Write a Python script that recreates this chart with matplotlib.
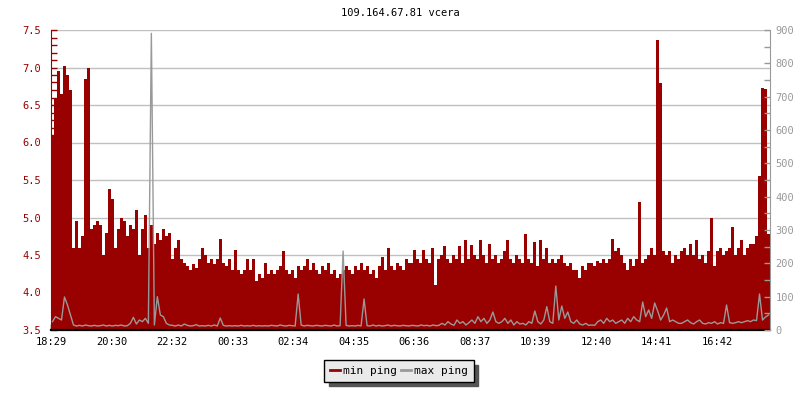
import numpy as np
import matplotlib
matplotlib.use('Agg')
from matplotlib import pyplot as plt
from matplotlib.ticker import MultipleLocator

# min ping (ms, left axis), one value per 6 minutes, from 18:29
min_ping = [
    6.1, 6.6, 6.95, 6.65, 7.02, 6.9, 6.7, 4.6, 4.95, 4.6,
    4.75, 6.85, 7.0, 4.85, 4.9, 4.95, 4.9, 4.5, 4.8, 5.38,
    5.25, 4.6, 4.85, 5.0, 4.95, 4.75, 4.9, 4.85, 5.1, 4.5,
    4.85, 5.03, 4.6, 4.9, 4.65, 4.8, 4.7, 4.85, 4.75, 4.8,
    4.45, 4.6, 4.7, 4.45, 4.4, 4.35, 4.3, 4.38, 4.33, 4.45,
    4.6, 4.5, 4.4, 4.45, 4.38, 4.45, 4.72, 4.4, 4.35, 4.45,
    4.3, 4.57, 4.3, 4.25, 4.3, 4.45, 4.3, 4.45, 4.15, 4.25,
    4.2, 4.4, 4.25, 4.3, 4.25, 4.3, 4.35, 4.55, 4.3, 4.25,
    4.3, 4.2, 4.35, 4.3, 4.35, 4.45, 4.3, 4.4, 4.3, 4.25,
    4.35, 4.3, 4.4, 4.25, 4.3, 4.2, 4.25, 4.3, 4.35, 4.3,
    4.25, 4.35, 4.3, 4.4, 4.3, 4.35, 4.25, 4.3, 4.2, 4.35,
    4.47, 4.3, 4.6, 4.35, 4.3, 4.4, 4.35, 4.3, 4.45, 4.4,
    4.4, 4.57, 4.45, 4.4, 4.57, 4.45, 4.4, 4.6, 4.1, 4.45,
    4.5, 4.62, 4.45, 4.4, 4.5, 4.45, 4.62, 4.4, 4.7, 4.45,
    4.63, 4.5, 4.45, 4.7, 4.5, 4.4, 4.65, 4.45, 4.5, 4.4,
    4.45, 4.55, 4.7, 4.45, 4.4, 4.5, 4.45, 4.4, 4.78, 4.45,
    4.4, 4.67, 4.35, 4.7, 4.45, 4.6, 4.4, 4.45, 4.4, 4.45,
    4.5, 4.4, 4.35, 4.4, 4.3, 4.3, 4.2, 4.35, 4.3, 4.4,
    4.4, 4.35, 4.42, 4.4, 4.45, 4.4, 4.45, 4.72, 4.55, 4.6,
    4.5, 4.4, 4.3, 4.45, 4.35, 4.45, 5.21, 4.4, 4.45, 4.5,
    4.6, 4.5, 7.37, 6.8, 4.55, 4.5, 4.55, 4.4, 4.5, 4.45,
    4.55, 4.6, 4.5, 4.65, 4.5, 4.7, 4.45, 4.5, 4.4, 4.55,
    5.0, 4.35, 4.55, 4.6, 4.5, 4.55, 4.6, 4.87, 4.5, 4.6,
    4.7, 4.5, 4.6, 4.65, 4.65, 4.75, 5.55, 6.73, 6.72, 4.78,
]

# max ping (ms, right axis)
max_ping = [
    25, 40, 35, 30, 99, 75, 45, 15, 12, 14,
    12, 15, 13, 12, 14, 12, 13, 15, 12, 14,
    12, 14, 13, 15, 12, 13, 20, 38, 18, 30,
    25, 35, 20, 890, 15, 100, 45, 40, 20, 15,
    14, 12, 15, 12, 18, 14, 12, 13, 16, 12,
    13, 12, 14, 12, 15, 12, 36, 14, 12, 13,
    12, 13, 12, 14, 12, 13, 12, 14, 12, 13,
    12, 13, 12, 14, 13, 12, 15, 13, 12, 14,
    13, 12, 108, 15, 12, 14, 13, 12, 14, 13,
    12, 14, 13, 12, 15, 12, 13, 237, 14, 12,
    13, 12, 14, 12, 93, 13, 12, 15, 12, 14,
    12, 13, 15, 12, 14, 13, 12, 14, 13, 12,
    14, 13, 12, 15, 13, 14, 12, 15, 13, 14,
    20, 15, 25, 18, 14, 30, 20, 25, 15, 22,
    30, 20, 40, 25, 35, 20, 30, 54, 25, 20,
    25, 35, 20, 30, 15, 25, 18, 20, 15, 25,
    20, 57, 25, 18, 30, 70, 25, 20, 132, 30,
    72, 35, 54, 25, 20, 30, 18, 15, 20, 14,
    15, 14, 25, 30, 20, 35, 25, 30, 20, 25,
    30, 20, 35, 25, 40, 30, 25, 84, 40, 60,
    35, 81, 57, 30, 45, 66, 25, 30, 25, 20,
    20, 25, 30, 22, 18, 25, 30, 20, 18, 22,
    20, 25, 18, 22, 20, 75, 22, 20, 22, 25,
    22, 25, 28, 25, 30, 28, 108, 30, 39, 45,
]

tick_minutes = [0, 121, 243, 364, 485, 607, 728, 849, 970, 1092, 1213, 1334]
tick_labels = ['18:29', '20:30', '22:32', '00:33', '02:34', '04:35',
               '06:36', '08:37', '10:39', '12:40', '14:41', '16:42']

RED = '#990000'
GRAY = '#999999'
plt.rcParams['font.family'] = 'DejaVu Sans Mono'

step = 6
edges = np.arange(len(min_ping) + 1) * step
centers = edges[:-1] + step / 2
min_ext = min_ping + [min_ping[-1]]

fig = plt.figure(figsize=(8, 4), dpi=100)
ax = fig.add_axes([51 / 800, 70 / 400, 719 / 800, 300 / 400])

ax.fill_between(edges, min_ext, 3.5, step='post', color=RED, linewidth=0, zorder=2)
ax.set_xlim(0, 1440)
ax.set_ylim(3.5, 7.5)
ax.yaxis.set_major_locator(MultipleLocator(0.5))
ax.yaxis.set_minor_locator(MultipleLocator(0.1))
ax.grid(axis='y', which='major', color='#c0c0c0', linewidth=1.0, zorder=0)
ax.set_axisbelow(True)
ax.set_xticks(tick_minutes)
ax.set_xticklabels(tick_labels)
ax.tick_params(axis='x', direction='in', length=4, width=1, colors='black',
               labelsize=7.5, pad=5)
ax.tick_params(axis='y', which='both', direction='in', length=4, width=1,
               colors=RED, labelsize=7.5, pad=7)
ax.yaxis.set_major_formatter(matplotlib.ticker.FormatStrFormatter('%.1f'))
ax.spines['left'].set_color(RED)
ax.spines['bottom'].set_color('black')
ax.spines['bottom'].set_linewidth(1.6)
ax.spines['top'].set_visible(False)
ax.spines['right'].set_visible(False)

ax2 = ax.twinx()
ax2.plot(centers, max_ping, color=GRAY, linewidth=1.0, zorder=3)
ax2.set_ylim(0, 900)
ax2.yaxis.set_major_locator(MultipleLocator(100))
ax2.yaxis.set_minor_locator(MultipleLocator(50))
ax2.tick_params(axis='y', which='both', direction='in', length=4, width=1,
                colors=GRAY, labelsize=7.5, pad=4)
ax2.spines['right'].set_color(GRAY)
ax2.spines['top'].set_visible(False)
ax2.spines['left'].set_visible(False)
ax2.spines['bottom'].set_visible(False)

fig.text(0.5, 1 - 13 / 400, '109.164.67.81 vcera', ha='center', va='center',
         fontsize=7.5)

h1, = ax.plot([], [], color=RED, linewidth=2, label='min ping')
h2, = ax.plot([], [], color=GRAY, linewidth=2, label='max ping')
leg = fig.legend(handles=[h1, h2], loc='center', bbox_to_anchor=(399 / 800, 1 - 371 / 400),
                 ncol=2, fontsize=8, frameon=True, fancybox=False,
                 handlelength=0.9, handletextpad=0.3, columnspacing=0.3,
                 borderpad=0.5, shadow={'ox': 3, 'oy': -3, 'color': '#555555', 'alpha': 1})
leg.get_frame().set_facecolor('#eaeaea')
leg.get_frame().set_edgecolor('black')
leg.get_frame().set_linewidth(1.0)
leg.get_frame().set_alpha(1)

fig.savefig('out.png', dpi=100)
